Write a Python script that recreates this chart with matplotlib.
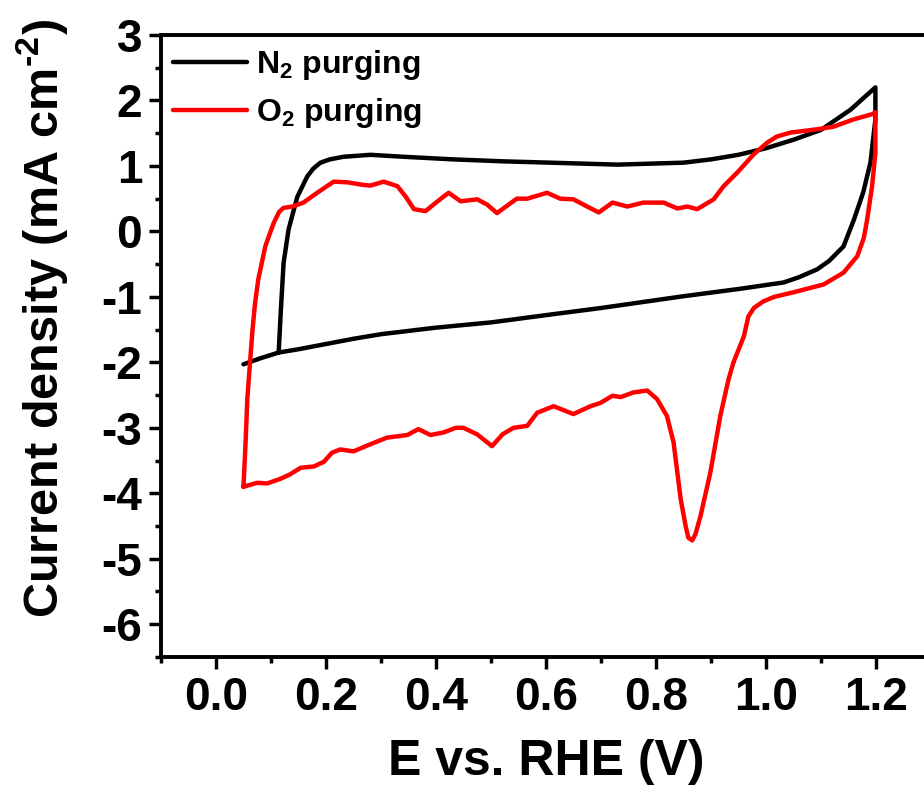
import matplotlib
matplotlib.use("Agg")
import matplotlib.pyplot as plt
from matplotlib.ticker import MultipleLocator

plt.rcParams['font.family'] = ['Liberation Sans', 'DejaVu Sans']
plt.rcParams['font.weight'] = 'bold'
plt.rcParams['mathtext.fontset'] = 'custom'
plt.rcParams['mathtext.rm'] = 'Liberation Sans:bold'
plt.rcParams['mathtext.bf'] = 'Liberation Sans:bold'
plt.rcParams['mathtext.it'] = 'Liberation Sans:bold'
plt.rcParams['mathtext.default'] = 'bf'
plt.rcParams['axes.unicode_minus'] = False

# N2 purging CV loop (E in V, j in mA cm^-2)
n2_E = [0.114, 0.118, 0.123, 0.132, 0.148, 0.166, 0.177, 0.19, 0.207, 0.232, 0.281, 0.341, 0.432,
        0.523, 0.608, 0.73, 0.85, 0.9, 0.95, 1.0, 1.05, 1.1, 1.154, 1.199,
        1.199, 1.19, 1.177, 1.16, 1.141, 1.115, 1.093, 1.06, 1.032, 0.95, 0.85,
        0.7, 0.608, 0.5, 0.4, 0.3, 0.25, 0.2, 0.15, 0.114, 0.08, 0.05]
n2_j = [-1.85, -1.2, -0.48, 0.03, 0.53, 0.84, 0.96, 1.05, 1.1, 1.14, 1.17, 1.14, 1.10,
        1.07, 1.05, 1.02, 1.05, 1.1, 1.17, 1.27, 1.4, 1.55, 1.86, 2.2,
        1.71, 1.05, 0.6, 0.18, -0.23, -0.45, -0.58, -0.7, -0.78, -0.88, -0.99,
        -1.17, -1.27, -1.39, -1.47, -1.57, -1.64, -1.72, -1.8, -1.85, -1.94, -2.03]

# O2 purging CV loop
o2_E = [0.05, 0.054, 0.057, 0.062, 0.066, 0.071, 0.077, 0.09, 0.105, 0.115, 0.123,
        0.139, 0.159, 0.184, 0.214, 0.239, 0.268, 0.281, 0.305, 0.33, 0.345, 0.36,
        0.381, 0.403, 0.423, 0.445, 0.475, 0.493, 0.511, 0.547, 0.566, 0.602, 0.626,
        0.65, 0.675, 0.696, 0.721, 0.748, 0.777, 0.814, 0.839, 0.857, 0.875, 0.905,
        0.923, 0.948, 0.978, 1.003, 1.02, 1.045, 1.093, 1.123, 1.159, 1.193, 1.199,
        1.199, 1.193, 1.184, 1.178, 1.166, 1.141, 1.105, 1.05, 1.015, 0.995, 0.978, 0.968, 0.96,
        0.941, 0.932, 0.917, 0.899, 0.881, 0.872, 0.866, 0.859, 0.854, 0.845, 0.832, 0.82, 0.802,
        0.784, 0.759, 0.736, 0.721, 0.699, 0.681, 0.65, 0.614, 0.584, 0.566, 0.541,
        0.521, 0.502, 0.475, 0.45, 0.436, 0.414, 0.39, 0.368, 0.348, 0.311, 0.281,
        0.25, 0.226, 0.211, 0.196, 0.178, 0.154, 0.135, 0.117, 0.093, 0.075, 0.05]
o2_j = [-3.9, -3.2, -2.56, -2.0, -1.55, -1.1, -0.73, -0.22, 0.13, 0.3, 0.36,
        0.38, 0.44, 0.59, 0.76, 0.75, 0.71, 0.70, 0.76, 0.69, 0.53, 0.34,
        0.31, 0.46, 0.59, 0.46, 0.49, 0.41, 0.28, 0.5, 0.5, 0.59, 0.5,
        0.49, 0.38, 0.29, 0.44, 0.38, 0.44, 0.44, 0.35, 0.38, 0.34, 0.49,
        0.69, 0.9, 1.18, 1.36, 1.45, 1.51, 1.56, 1.6, 1.71, 1.79, 1.82,
        1.2, 0.69, 0.18, -0.1, -0.38, -0.63, -0.81, -0.93, -1.0, -1.07, -1.17, -1.3, -1.6,
        -2.0, -2.26, -2.82, -3.68, -4.35, -4.62, -4.72, -4.68, -4.5, -4.09, -3.22, -2.82, -2.56,
        -2.43, -2.46, -2.53, -2.51, -2.62, -2.67, -2.79, -2.67, -2.77, -2.97, -3.0,
        -3.1, -3.28, -3.1, -3.0, -3.0, -3.07, -3.11, -3.02, -3.11, -3.15, -3.25,
        -3.36, -3.33, -3.38, -3.52, -3.59, -3.61, -3.71, -3.78, -3.85, -3.84, -3.9]

labels = ["N$_2$ purging", "O$_2$ purging"]
xtick_vals = [0.0, 0.2, 0.4, 0.6, 0.8, 1.0, 1.2]
xtick_labels = ['0.0', '0.2', '0.4', '0.6', '0.8', '1.0', '1.2']

fig = plt.figure(figsize=(9.24, 7.90), dpi=100)
ax = fig.add_axes([0.1742, 0.1684, 0.8333, 0.7873])

ax.plot(n2_E, n2_j, color='black', lw=3.2, label=labels[0],
        solid_joinstyle='round', solid_capstyle='round')
ax.plot(o2_E, o2_j, color='#ff0000', lw=3.2, label=labels[1],
        solid_joinstyle='round', solid_capstyle='round')

ax.set_xlim(-0.1, 1.3)
ax.set_ylim(-6.5, 3)
ax.xaxis.set_minor_locator(MultipleLocator(0.1))
ax.yaxis.set_major_locator(MultipleLocator(1))
ax.yaxis.set_minor_locator(MultipleLocator(0.5))
ax.set_xticks(xtick_vals)
ax.set_xticklabels(xtick_labels)

for s in ax.spines.values():
    s.set_linewidth(2.8)
ax.tick_params(which='major', direction='out', length=8.5, width=2.5, labelsize=33, pad=5)
ax.tick_params(which='minor', direction='out', length=4.5, width=2.5)
for t in ax.get_xticklabels() + ax.get_yticklabels():
    t.set_fontweight('bold')

ax.set_xlabel("E vs. RHE (V)", fontsize=36, fontweight='bold', labelpad=14)
ax.set_ylabel(r"Current density (mA cm$^{\text{-2}}$)", fontsize=35, fontweight='bold')
ax.yaxis.set_label_coords(-0.1175, 0.545)

leg = ax.legend(loc='upper left', frameon=False, fontsize=23, handlelength=2.3,
                handletextpad=0.3, borderaxespad=0.2, labelspacing=0.45,
                bbox_to_anchor=(-0.009, 1.01))
for line in leg.get_lines():
    line.set_linewidth(3.2)

fig.savefig("out.png", dpi=100)
